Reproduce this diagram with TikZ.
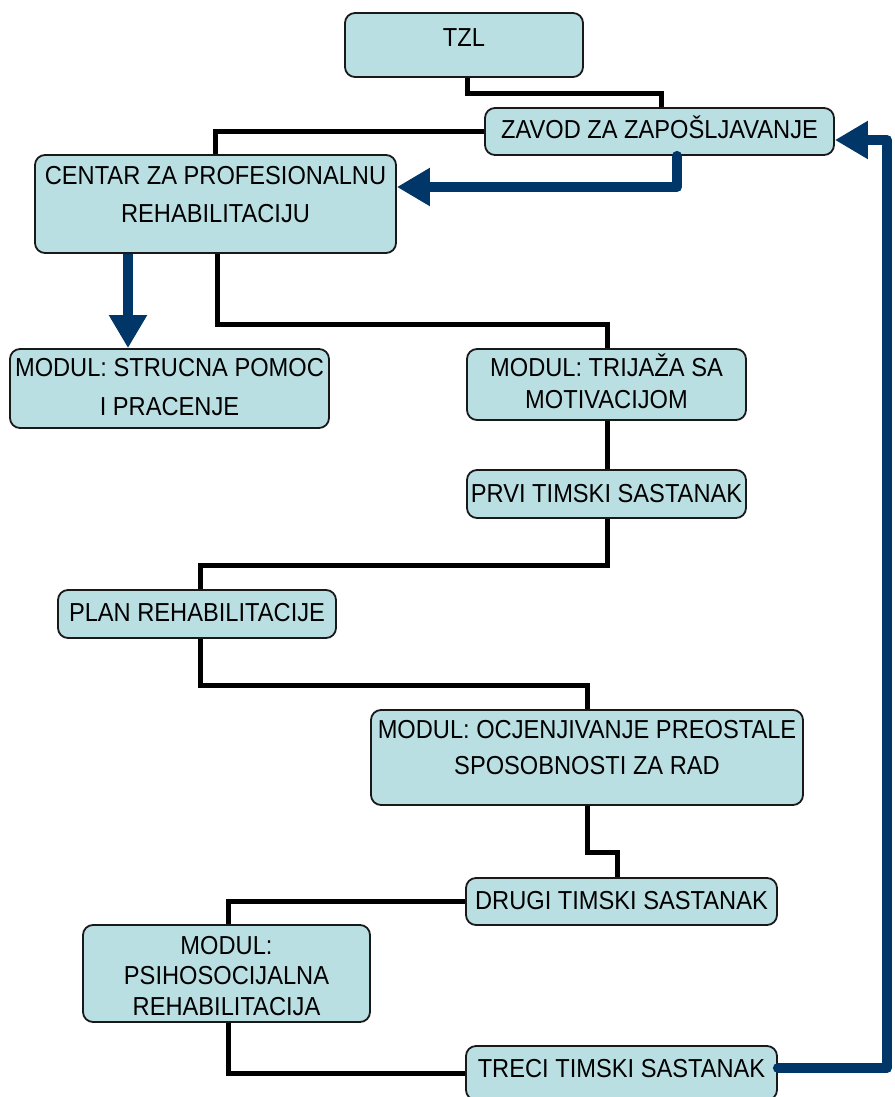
\documentclass[tikz,border=0pt]{standalone}
\usepackage{fontspec}
\setmainfont{Liberation Sans}[FakeStretch=0.91]
\usetikzlibrary{arrows.meta,backgrounds}
\definecolor{boxfill}{RGB}{186,223,227}
\definecolor{navy}{RGB}{0,54,104}
\begin{document}
\begin{tikzpicture}[x=1pt,y=-1pt,
  stepbox/.style={draw=black!90, line width=1.8pt, fill=boxfill, rounded corners=10pt,
                  inner sep=0pt, minimum width=#1},
  lbl/.style={anchor=base, inner sep=0pt, font=\fontsize{26}{30}\selectfont},
  link/.style={line width=5pt, draw=black, line join=miter},
  flow/.style={line width=10pt, draw=navy, line cap=round, line join=round,
               -{Triangle[length=33pt,width=36pt]}}]
\useasboundingbox (0,0) rectangle (894,1097);

% boxes
\node[stepbox=238pt, minimum height=64pt] (tzl) at (464,45) {};
\node[stepbox=349pt, minimum height=47pt] (zavod) at (659.5,131.5) {};
\node[stepbox=361pt, minimum height=98pt] (centar) at (215.5,204) {};
\node[stepbox=319pt, minimum height=79pt] (strucna) at (169.5,388.5) {};
\node[stepbox=279pt, minimum height=71pt] (trijaza) at (606.5,384.5) {};
\node[stepbox=279pt, minimum height=48pt] (prvi) at (606.5,494) {};
\node[stepbox=278pt, minimum height=48pt] (plan) at (197,614) {};
\node[stepbox=432pt, minimum height=95pt] (ocj) at (587,757.5) {};
\node[stepbox=311pt, minimum height=47pt] (drugi) at (621.5,901.5) {};
\node[stepbox=287pt, minimum height=97pt] (psiho) at (226.5,973.5) {};
\node[stepbox=311pt, minimum height=54pt] (treci) at (621.5,1073) {};

% texts
\node[lbl] (tzl-t) at (464,47) {TZL};
\node[lbl] (zavod-t) at (659.5,139) {ZAVOD ZA ZAPOŠLJAVANJE};
\node[lbl] (centar-t1) at (215.5,184) {CENTAR ZA PROFESIONALNU};
\node[lbl] (centar-t2) at (215.5,222) {REHABILITACIJU};
\node[lbl] (strucna-t1) at (169.5,376) {MODUL: STRUCNA POMOC};
\node[lbl] (strucna-t2) at (169.5,415) {I PRACENJE};
\node[lbl] (trijaza-t1) at (606.5,376) {MODUL: TRIJAŽA SA};
\node[lbl] (trijaza-t2) at (606.5,408) {MOTIVACIJOM};
\node[lbl] (prvi-t) at (606.5,502) {PRVI TIMSKI SASTANAK};
\node[lbl] (plan-t) at (197,621) {PLAN REHABILITACIJE};
\node[lbl] (ocj-t1) at (587,738) {MODUL: OCJENJIVANJE PREOSTALE};
\node[lbl] (ocj-t2) at (587,774) {SPOSOBNOSTI ZA RAD};
\node[lbl] (drugi-t) at (621.5,909) {DRUGI TIMSKI SASTANAK};
\node[lbl] (psiho-t1) at (226.5,954) {MODUL:};
\node[lbl] (psiho-t2) at (226.5,984) {PSIHOSOCIJALNA};
\node[lbl] (psiho-t3) at (226.5,1015) {REHABILITACIJA};
\node[lbl] (treci-t) at (621.5,1077) {TRECI TIMSKI SASTANAK};

% black links behind the boxes
\begin{scope}[on background layer]
  \draw[link] (467,0 |- tzl.south) -- (467,94) -- (661,94) -- (661,0 |- zavod.north);
  \draw[link] (zavod.west) -- (215,0 |- zavod.west) -- (215,0 |- centar.north);
  \draw[link] (217,0 |- centar.south) -- (217,324) -- (607,324) -- (607,0 |- trijaza.north);
  \draw[link] (607,0 |- trijaza.south) -- (607,0 |- prvi.north);
  \draw[link] (607,0 |- prvi.south) -- (607,565) -- (200,565) -- (200,0 |- plan.north);
  \draw[link] (200,0 |- plan.south) -- (200,685) -- (587,685) -- (ocj.north);
  \draw[link] (587,0 |- ocj.south) -- (587,852) -- (617,852) -- (617,0 |- drugi.north);
  \draw[link] (drugi.west) -- (228,0 |- drugi.west) -- (228,0 |- psiho.north);
  \draw[link] (228,0 |- psiho.south) -- (228,1073) -- (treci.west);
\end{scope}

% navy flow arrows
\draw[flow] (677,0 |- zavod.south) -- (677,187) -- (centar.east |- 0,187);
\draw[flow, line cap=butt] (128,0 |- centar.south) -- (128,0 |- strucna.north);
\draw[flow] (treci.east |- 0,1068) -- (887,1068) -- (887,140) -- (zavod.east |- 0,140);
\end{tikzpicture}
\end{document}
